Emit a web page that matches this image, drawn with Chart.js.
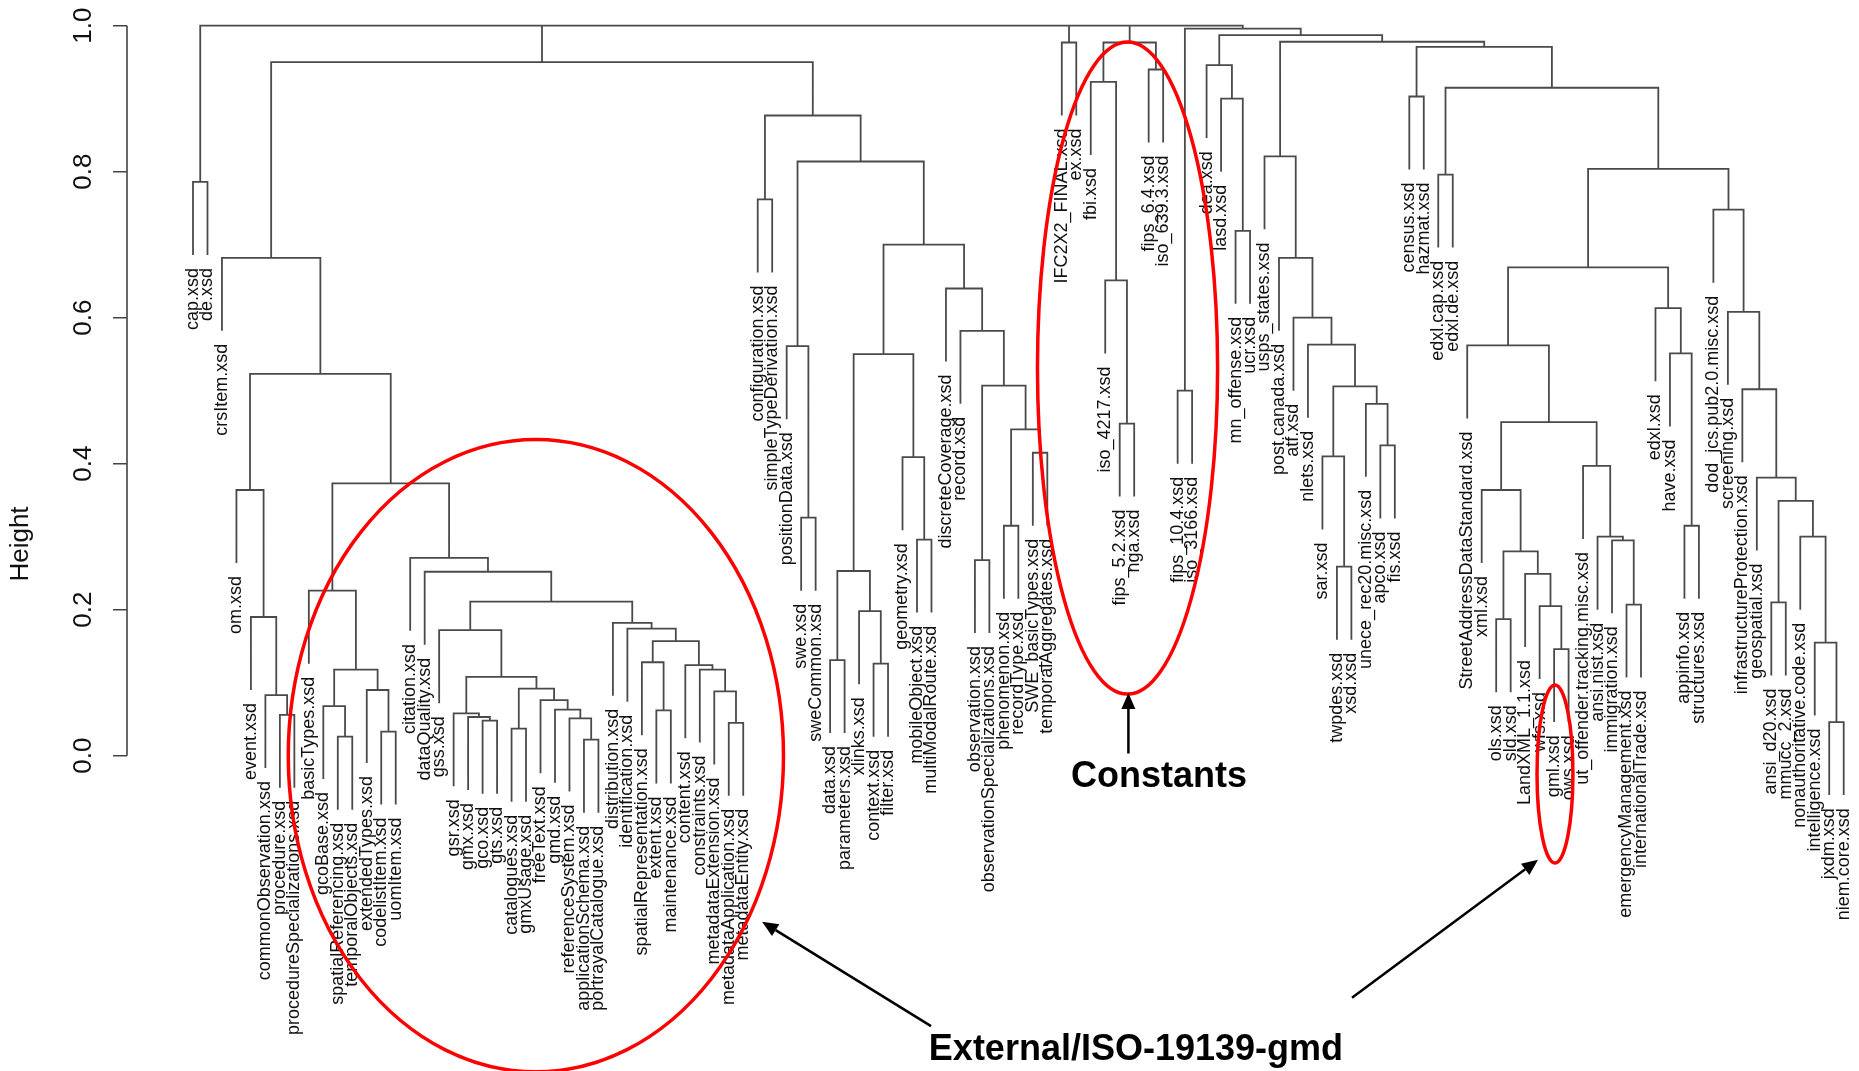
<!DOCTYPE html>
<html>
<head>
<meta charset="utf-8">
<script src="https://cdn.jsdelivr.net/npm/chart.js@4.4.1/dist/chart.umd.min.js"></script>
<style>
  html, body { margin: 0; padding: 0; background: #ffffff; }
  #wrap { width: 1859px; height: 1071px; position: relative; }
  canvas { display: block; }
</style>
</head>
<body>
<div id="wrap"><canvas id="chart" width="1859" height="1071"></canvas></div>
<script>
// ---------------- DATA ----------------
const leafLabels = [
  "cap.xsd","de.xsd","crsItem.xsd","om.xsd","event.xsd","commonObservation.xsd","procedure.xsd",
  "procedureSpecializations.xsd","basicTypes.xsd","gcoBase.xsd","spatialReferencing.xsd","temporalObjects.xsd",
  "extendedTypes.xsd","codelistItem.xsd","uomItem.xsd","citation.xsd","dataQuality.xsd","gss.xsd","gsr.xsd",
  "gmx.xsd","gco.xsd","gts.xsd","catalogues.xsd","gmxUsage.xsd","freeText.xsd","gmd.xsd","referenceSystem.xsd",
  "applicationSchema.xsd","portrayalCatalogue.xsd","distribution.xsd","identification.xsd",
  "spatialRepresentation.xsd","extent.xsd","maintenance.xsd","content.xsd","constraints.xsd",
  "metadataExtension.xsd","metadataApplication.xsd","metadataEntity.xsd","configuration.xsd",
  "simpleTypeDerivation.xsd","positionData.xsd","swe.xsd","sweCommon.xsd","data.xsd","parameters.xsd",
  "xlinks.xsd","context.xsd","filter.xsd","geometry.xsd","mobileObject.xsd","multiModalRoute.xsd",
  "discreteCoverage.xsd","record.xsd","observation.xsd","observationSpecializations.xsd","phenomenon.xsd",
  "recordType.xsd","SWE_basicTypes.xsd","temporalAggregates.xsd","IFC2X2_FINAL.xsd","ex.xsd","fbi.xsd",
  "iso_4217.xsd","fips_5.2.xsd","nga.xsd","fips_6.4.xsd","iso_639.3.xsd","fips_10.4.xsd","iso_3166.xsd",
  "dea.xsd","lasd.xsd","mn_offense.xsd","ucr.xsd","usps_states.xsd","post.canada.xsd","atf.xsd","nlets.xsd",
  "sar.xsd","twpdes.xsd","xsd.xsd","unece_rec20.misc.xsd","apco.xsd","fis.xsd","census.xsd","hazmat.xsd",
  "edxl.cap.xsd","edxl.de.xsd","StreetAddressDataStandard.xsd","xml.xsd","ols.xsd","sld.xsd",
  "LandXML_1.1.xsd","wfs.xsd","gml.xsd","ows.xsd","ut_offender.tracking.misc.xsd","ansi.nist.xsd",
  "immigration.xsd","emergencyManagement.xsd","internationalTrade.xsd","edxl.xsd","have.xsd","appinfo.xsd",
  "structures.xsd","dod_jcs.pub2.0.misc.xsd","screening.xsd","infrastructureProtection.xsd","geospatial.xsd",
  "ansi_d20.xsd","mmucc_2.xsd","nonauthoritative.code.xsd","intelligence.xsd","jxdm.xsd","niem.core.xsd"
];

const yTickValues = [0.0, 0.2, 0.4, 0.6, 0.8, 1.0];
const yTickLabels = ["0.0", "0.2", "0.4", "0.6", "0.8", "1.0"];
const yAxisTitle = "Height";
const hang = 0.1;

// Sub-clusters: "(a,b)h" = merge of a and b at height h; numbers are leaf positions (1-based)
const omGroup     = "(4,(5,(6,(7,8)0.056)0.083)0.19)0.364";
const basicGroup  = "(9,((10,(11,12)0.026)0.068,(13,(14,15)0.033)0.09)0.118)0.226";
const gssGroup    = "(18,((19,(20,(21,22)0.048)0.053)0.058,((23,24)0.037,(25,(26,(27,(28,29)0.022)0.051)0.063)0.076)0.092)0.108)0.172";
const distGroup   = "(30,(31,((32,(33,34)0.062)0.128,(35,(36,(37,(38,39)0.045)0.088)0.118)0.124)0.157)0.174)0.182";
const posGroup    = "(42,(43,44)0.326)0.561";
const dataGroup   = "(((45,46)0.131,(47,(48,49)0.126)0.198)0.253,(50,(51,52)0.296)0.409)0.55";
const discGroup   = "(53,(54,((55,56)0.268,((57,58)0.315,(59,60)0.415)0.447)0.507)0.582)0.64";
const ifcGroup    = "(61,62)0.977";
const constGroup  = "((63,(64,(65,66)0.455)0.651)0.923,(67,68)0.94)0.977";
const fipsGroup   = "(69,70)0.5";
const deaGroup    = "(71,(72,(73,74)0.719)0.90)0.946";
const uspsGroup   = "(75,(76,(77,(78,((79,(80,81)0.259)0.41,(82,(83,84)0.425)0.482)0.506)0.563)0.60)0.682)0.821";
const streetGroup = "(89,((90,((91,92)0.187,(93,(94,(95,96)0.146)0.205)0.249)0.28)0.364,(97,(98,(99,(100,101)0.207)0.295)0.30)0.397)0.457)0.562";
const edxlGroup   = "(102,(103,(104,105)0.315)0.551)0.613";
const dodGroup    = "(106,(107,(108,(109,((110,111)0.21,(112,(113,(114,115)0.046)0.155)0.30)0.349)0.381)0.502)0.608)0.748";

// Assemble the full tree from the sub-clusters
const citGroup = "(16,(17,(" + gssGroup + "," + distGroup + ")0.211)0.252)0.271";
const leftA = "(3,(" + omGroup + ",(" + basicGroup + "," + citGroup + ")0.373)0.523)0.682";
const rightA = "((40,41)0.762,(" + posGroup + ",(" + dataGroup + "," + discGroup + ")0.70)0.814)0.877";
const nodeA = "(" + leftA + "," + rightA + ")0.95";
const node0804 = "((" + streetGroup + "," + edxlGroup + ")0.669," + dodGroup + ")0.804";
const node0971 = "((85,86)0.903,((87,88)0.796," + node0804 + ")0.915)0.971";
const node0996 = "(" + fipsGroup + ",(" + deaGroup + ",(" + uspsGroup + "," + node0971 + ")0.978)0.987)0.996";
const treeString = "(((((1,2)0.786," + nodeA + ")1.0," + ifcGroup + ")1.0," + constGroup + ")1.0," + node0996 + ")1.0";

// Annotations (in data units: x = leaf position, y = height)
const annotationEllipses = [
  { cx: 24.68, cy: 0.0,    rx: 17.1, ry: 0.433 },
  { cx: 65.54, cy: 0.531,  rx: 6.22, ry: 0.4466 },
  { cx: 95.06, cy: -0.025, rx: 1.24, ry: 0.122 }
];
const annotationArrows = [
  { x1: 65.6,  y1: 0.003,   x2: 65.6,  y2: 0.086 },
  { x1: 51.97, y1: -0.3705, x2: 40.3,  y2: -0.2274 },
  { x1: 81.04, y1: -0.3315, x2: 93.89, y2: -0.1425 }
];
const annotationTexts = [
  { text: "Constants", x: 67.71, y: -0.0288 },
  { text: "External/ISO-19139-gmd", x: 66.12, y: -0.4027 }
];

// ---------------- BUILD TREE ----------------
function parseTree(s) {
  let i = 0;
  function num() {
    const m = /^-?[0-9.]+/.exec(s.slice(i));
    i += m[0].length;
    return parseFloat(m[0]);
  }
  function node() {
    if (s[i] === "(") {
      i++;
      const left = node();
      i++; // ','
      const right = node();
      i++; // ')'
      const h = num();
      return { leaf: false, left, right, h };
    }
    return { leaf: true, idx: num() };
  }
  return node();
}
const root = parseTree(treeString);

const segments = [];
const leafTips = new Array(leafLabels.length).fill(0);
function layout(n) {
  if (n.leaf) { n.x = n.idx; return; }
  layout(n.left); layout(n.right);
  n.x = (n.left.x + n.right.x) / 2;
  const lb = n.left.leaf ? n.h - hang : n.left.h;
  const rb = n.right.leaf ? n.h - hang : n.right.h;
  if (n.left.leaf) leafTips[n.left.idx - 1] = lb;
  if (n.right.leaf) leafTips[n.right.idx - 1] = rb;
  segments.push({ x: n.left.x, y: lb }, { x: n.left.x, y: n.h },
                { x: n.right.x, y: n.h }, { x: n.right.x, y: rb },
                { x: n.right.x, y: null });
}
layout(root);

// ---------------- PLUGIN (axis, labels, annotations) ----------------
const FONT = '"Liberation Sans", Arial, Helvetica, sans-serif';
const dendroPlugin = {
  id: "dendro",
  afterDatasetsDraw(chart) {
    const ctx = chart.ctx;
    const xs = chart.scales.x, ys = chart.scales.y;
    ctx.save();
    // leaf labels
    ctx.fillStyle = "#111111";
    ctx.font = "18px " + FONT;
    ctx.textAlign = "right";
    ctx.textBaseline = "middle";
    leafLabels.forEach((lab, k) => {
      const px = xs.getPixelForValue(k + 1);
      const py = ys.getPixelForValue(leafTips[k]) + 13;
      ctx.save();
      ctx.translate(px, py);
      ctx.rotate(-Math.PI / 2);
      ctx.fillText(lab, 0, 0);
      ctx.restore();
    });
    // y axis (R style)
    const ax = chart.chartArea.left;
    ctx.strokeStyle = "#444";
    ctx.lineWidth = 1.6;
    ctx.beginPath();
    ctx.moveTo(ax, ys.getPixelForValue(yTickValues[0]));
    ctx.lineTo(ax, ys.getPixelForValue(yTickValues[yTickValues.length - 1]));
    yTickValues.forEach(v => {
      const py = ys.getPixelForValue(v);
      ctx.moveTo(ax, py); ctx.lineTo(ax - 14, py);
    });
    ctx.stroke();
    ctx.fillStyle = "#111";
    ctx.font = "26px " + FONT;
    ctx.textAlign = "center";
    ctx.textBaseline = "middle";
    yTickValues.forEach((v, k) => {
      const py = ys.getPixelForValue(v);
      ctx.save(); ctx.translate(ax - 43, py); ctx.rotate(-Math.PI / 2);
      ctx.fillText(yTickLabels[k], 0, 0); ctx.restore();
    });
    ctx.save(); ctx.translate(21, ys.getPixelForValue(0.29)); ctx.rotate(-Math.PI / 2);
    ctx.fillText(yAxisTitle, 0, 0); ctx.restore();

    // annotations: ellipses
    ctx.strokeStyle = "#ff0000";
    ctx.lineWidth = 3.5;
    annotationEllipses.forEach(e => {
      const cx = xs.getPixelForValue(e.cx), cy = ys.getPixelForValue(e.cy);
      const rx = Math.abs(xs.getPixelForValue(e.cx + e.rx) - cx);
      const ry = Math.abs(ys.getPixelForValue(e.cy + e.ry) - cy);
      ctx.beginPath(); ctx.ellipse(cx, cy, rx, ry, 0, 0, Math.PI * 2); ctx.stroke();
    });
    // arrows
    ctx.strokeStyle = "#000"; ctx.fillStyle = "#000"; ctx.lineWidth = 2.5;
    annotationArrows.forEach(a => {
      const x1 = xs.getPixelForValue(a.x1), y1 = ys.getPixelForValue(a.y1);
      const x2 = xs.getPixelForValue(a.x2), y2 = ys.getPixelForValue(a.y2);
      const ang = Math.atan2(y2 - y1, x2 - x1);
      const L = 16, W = 7;
      const bx = x2 - L * Math.cos(ang), by = y2 - L * Math.sin(ang);
      ctx.beginPath(); ctx.moveTo(x1, y1); ctx.lineTo(bx, by); ctx.stroke();
      ctx.beginPath();
      ctx.moveTo(x2, y2);
      ctx.lineTo(bx + W * Math.sin(ang), by - W * Math.cos(ang));
      ctx.lineTo(bx - W * Math.sin(ang), by + W * Math.cos(ang));
      ctx.closePath(); ctx.fill();
    });
    // texts
    ctx.font = "bold 36px " + FONT;
    ctx.textAlign = "center"; ctx.textBaseline = "middle";
    annotationTexts.forEach(t => {
      ctx.fillText(t.text, xs.getPixelForValue(t.x), ys.getPixelForValue(t.y));
    });
    ctx.restore();
  }
};

// ---------------- CHART ----------------
const xMin = -3.558, xMax = 115.78;
new Chart(document.getElementById("chart").getContext("2d"), {
  type: "line",
  data: {
    datasets: [{
      data: segments,
      borderColor: "#4a4a4a",
      borderWidth: 1.8,
      pointRadius: 0,
      pointHoverRadius: 0,
      spanGaps: false,
      tension: 0,
      fill: false,
      clip: false,
      borderJoinStyle: "miter",
      borderCapStyle: "butt"
    }]
  },
  options: {
    responsive: false,
    animation: false,
    events: [],
    parsing: true,
    layout: { padding: { left: 127, right: 4, top: 25.7, bottom: 8.7 } },
    scales: {
      x: { type: "linear", min: xMin, max: xMax, display: false },
      y: { type: "linear", min: -0.42, max: 1.0, display: false }
    },
    plugins: { legend: { display: false }, tooltip: { enabled: false }, title: { display: false } }
  },
  plugins: [dendroPlugin]
});
</script>
</body>
</html>
